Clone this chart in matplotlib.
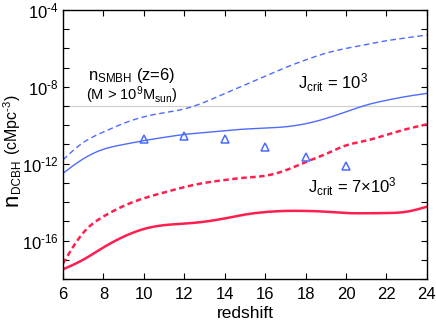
import numpy as np
import matplotlib
matplotlib.use('Agg')
import matplotlib.pyplot as plt
from matplotlib.ticker import FixedLocator, FuncFormatter

## plt config
plt.rcParams['font.family'] = ['Liberation Sans', 'DejaVu Sans']
plt.rcParams['mathtext.fontset'] = 'custom'
plt.rcParams['mathtext.rm'] = 'Liberation Sans'
plt.rcParams['mathtext.default'] = 'regular'
plt.rcParams['axes.unicode_minus'] = False

## data (log10 of number density)
z = [6, 7, 8, 9, 10, 11, 12, 13, 14, 15, 16, 17, 18, 19, 20, 21, 22, 23, 24]
blue_dashed = [-11.8, -10.9, -10.35, -9.9, -9.56, -9.35, -9.15, -8.8, -8.35, -7.9,
               -7.45, -7.0, -6.6, -6.25, -6.0, -5.8, -5.6, -5.45, -5.3]
blue_solid = [-12.5, -11.75, -11.25, -11.0, -10.8, -10.63, -10.48, -10.38, -10.28, -10.2,
              -10.15, -10.08, -9.92, -9.65, -9.3, -8.95, -8.7, -8.5, -8.34]
red_dashed = [-17.2, -15.6, -14.75, -14.2, -13.8, -13.5, -13.22, -13.0, -12.85, -12.73,
              -12.63, -12.35, -11.92, -11.5, -11.05, -10.8, -10.5, -10.2, -9.95]
red_solid = [-17.5, -17.0, -16.36, -15.8, -15.4, -15.2, -15.12, -15.02, -14.85, -14.65,
             -14.52, -14.46, -14.46, -14.5, -14.57, -14.58, -14.57, -14.5, -14.24]
z_pts = [10, 12, 14, 16, 18, 20]
pts = [-10.74, -10.56, -10.72, -11.15, -11.64, -12.1]
n_smbh = 1e-9

blue = '#4d6bff'
red = '#ff1f4f'


def spline(x, y, xn):
    # natural cubic spline through the read points
    x = np.asarray(x, float)
    y = np.asarray(y, float)
    n = len(x)
    h = np.diff(x)
    A = np.zeros((n, n))
    r = np.zeros(n)
    A[0, 0] = A[-1, -1] = 1
    for i in range(1, n - 1):
        A[i, i - 1] = h[i - 1]
        A[i, i] = 2 * (h[i - 1] + h[i])
        A[i, i + 1] = h[i]
        r[i] = 6 * ((y[i + 1] - y[i]) / h[i] - (y[i] - y[i - 1]) / h[i - 1])
    M = np.linalg.solve(A, r)
    k = np.clip(np.searchsorted(x, xn) - 1, 0, n - 2)
    t = xn - x[k]
    hk = h[k]
    a = (M[k + 1] - M[k]) / (6 * hk)
    b = M[k] / 2
    c = (y[k + 1] - y[k]) / hk - hk * (2 * M[k] + M[k + 1]) / 6
    return y[k] + c * t + b * t ** 2 + a * t ** 3


W, H = 436, 327
fig = plt.figure(figsize=(W / 100, H / 100), dpi=100)
ax = fig.add_axes([0.1445, 0.147, 0.8345, 0.8224])

zz = np.linspace(6, 24, 400)

ax.axhline(n_smbh, color='#d0d0d0', lw=0.9, zorder=1)
ax.plot(zz, 10 ** spline(z, blue_dashed, zz), color=blue, lw=1.0, ls=(0, (4, 2.5)))
ax.plot(zz, 10 ** spline(z, blue_solid, zz), color=blue, lw=1.0)
ax.plot(zz, 10 ** spline(z, red_dashed, zz), color=red, lw=1.8, ls=(0, (2.2, 1.4)))
ax.plot(zz, 10 ** spline(z, red_solid, zz), color=red, lw=1.8)
ax.plot(z_pts, 10 ** np.array(pts), ls='none', marker='^', ms=6.3, mfc='none',
        mec=blue, mew=1.1)

ax.set_yscale('log')
ax.set_xlim(6, 24)
ax.set_ylim(1e-18, 1e-4)
ax.set_xticks(range(6, 25, 2))
ax.yaxis.set_major_locator(FixedLocator([10.0 ** e for e in range(-18, -3)]))
ax.yaxis.set_minor_locator(FixedLocator([]))


def fmt(v, pos):
    e = int(round(np.log10(v)))
    if e % 4 == 0:
        return r'$10^{\text{%d}}$' % e
    return ''


ax.yaxis.set_major_formatter(FuncFormatter(fmt))

ax.tick_params(direction='in', top=True, right=True, length=4, width=0.8,
               labelsize=12)
ax.tick_params(axis='y', pad=3)
ax.tick_params(axis='x', pad=6)
for s in ax.spines.values():
    s.set_linewidth(1.0)

ax.set_xlabel('redshift', fontsize=12.5, labelpad=3)

# y label built from pieces: big n, small DCBH, then units
lab = dict(rotation=90, rotation_mode='anchor', ha='left', va='baseline')
fig.text(18 / W, 121 / H, 'n', fontsize=16, **lab)
fig.text(19.5 / W, 134 / H, 'DCBH', fontsize=8.5, **lab)
fig.text(18 / W, 172 / H, r'(cMpc$^{\text{-3}}$)', fontsize=11.5, **lab)

ax.text(9.4, 10 ** -7.4, r'n$_{SMBH}$ (z=6)', fontsize=12, ha='center', va='center')
ax.text(9.4, 10 ** -8.45, r'(M > 10$^9$M$_{sun}$)', fontsize=10.5, ha='center', va='center')
ax.text(19.35, 10 ** -7.8, r'J$_{crit}$ = 10$^3$', fontsize=12, ha='center', va='center')
ax.text(20.3, 10 ** -13.2, r'J$_{crit}$ = 7$\times$10$^3$', fontsize=12, ha='center', va='center')

plt.savefig('out.png', dpi=100)
